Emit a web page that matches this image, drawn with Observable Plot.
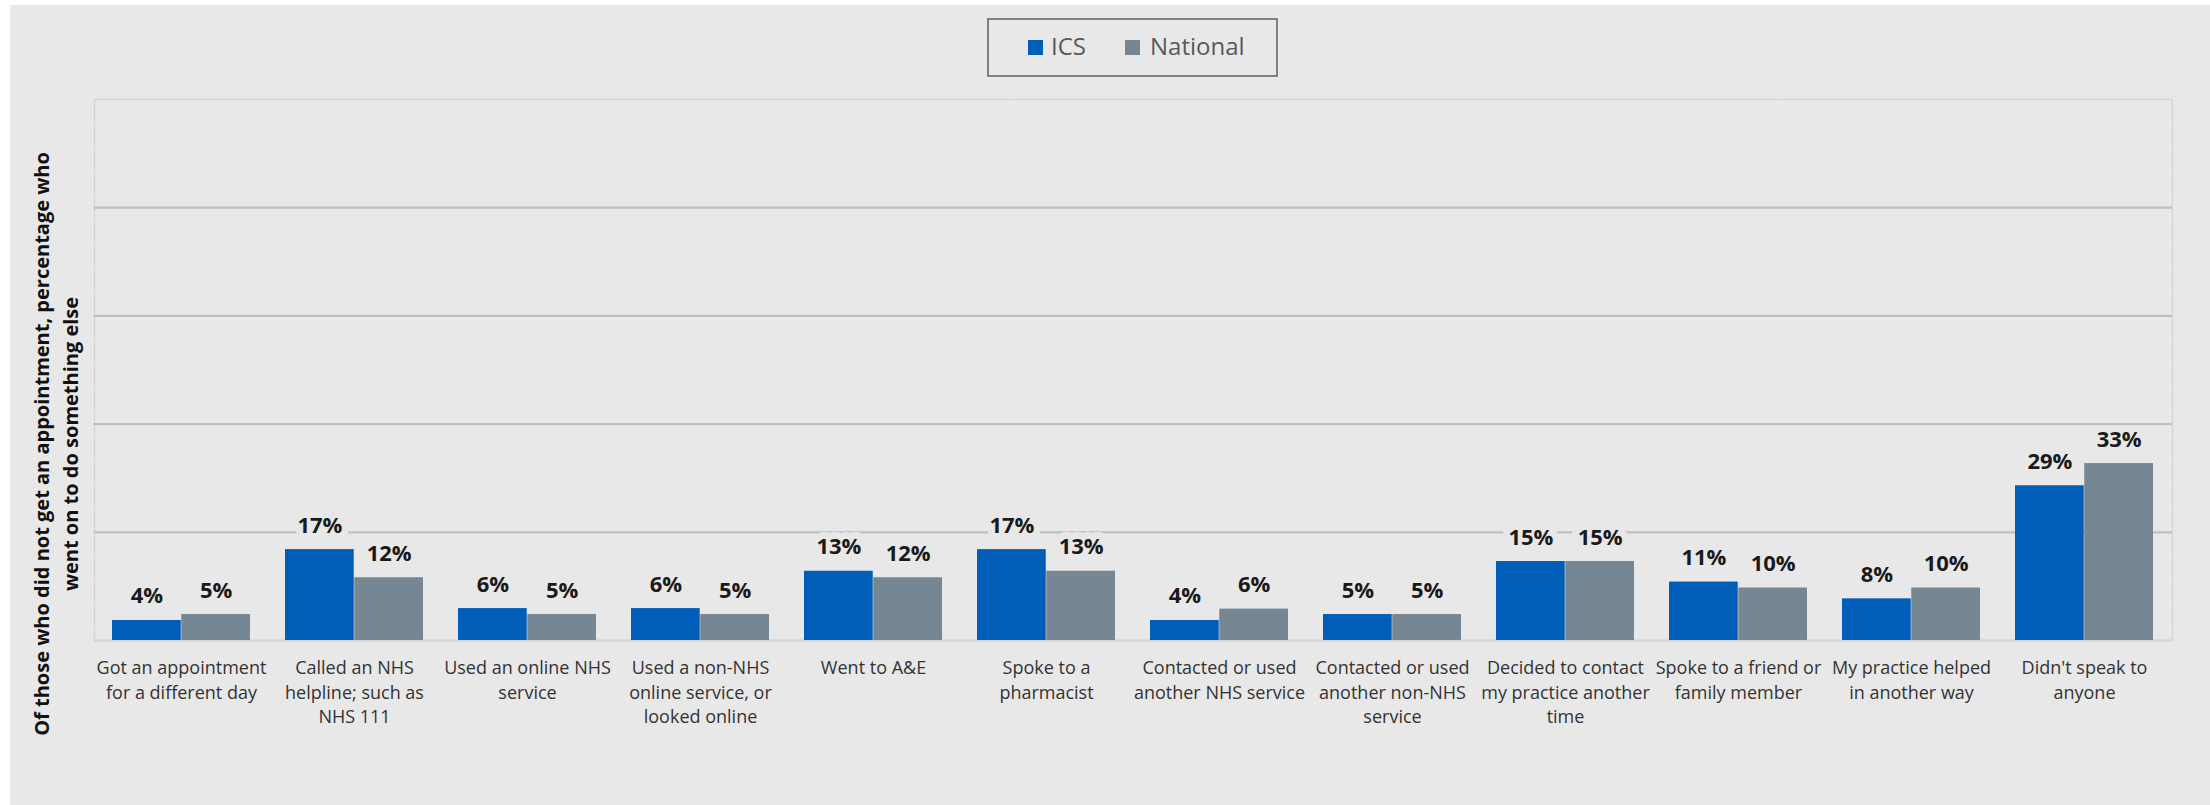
<!DOCTYPE html>
<html>
<head>
<meta charset="utf-8">
<script src="https://cdn.jsdelivr.net/npm/d3@7"></script>
<script src="https://cdn.jsdelivr.net/npm/@observablehq/plot@0.6"></script>
<style>
  html, body { margin: 0; padding: 0; background: #ffffff; }
  body { width: 2210px; height: 805px; position: relative; overflow: hidden; font-family: "Open Sans", sans-serif; }
  #bg { position: absolute; left: 10px; top: 5px; width: 2200px; height: 800px; background: #e8e8e8; }
  #legend { position: absolute; left: 987px; top: 18px; width: 291px; height: 59px; box-sizing: border-box; border: 2px solid #7f7f7f; }
  .sw { position: absolute; width: 15px; height: 15px; }
  .lt { position: absolute; font-size: 24px; line-height: 24px; color: #595959; white-space: nowrap; }
  #chart { position: absolute; left: 0; top: 85px; }
</style>
</head>
<body>
<div id="bg"></div>
<div id="legend"></div>
<div id="chart"></div>
<script>
// ---- data ----
const categories = [
  "Got an appointment\nfor a different day",
  "Called an NHS\nhelpline; such as\nNHS 111",
  "Used an online NHS\nservice",
  "Used a non-NHS\nonline service, or\nlooked online",
  "Went to A&E",
  "Spoke to a\npharmacist",
  "Contacted or used\nanother NHS service",
  "Contacted or used\nanother non-NHS\nservice",
  "Decided to contact\nmy practice another\ntime",
  "Spoke to a friend or\nfamily member",
  "My practice helped\nin another way",
  "Didn't speak to\nanyone"
];
const icsValues      = [3.7, 16.8, 5.9, 5.9, 12.8, 16.8, 3.7, 4.8, 14.6, 10.8, 7.7, 28.6];
const nationalValues = [4.8, 11.6, 4.8, 4.8, 11.6, 12.8, 5.8, 4.8, 14.6, 9.7, 9.7, 32.7];
const seriesNames = ["ICS", "National"];
const seriesColors = ["#005EB8", "#768692"];
const gridTicks = [20, 40, 60, 80];
const yTitle = "Of those who did not get an appointment, percentage who\nwent on to do something else";

// ---- rows ----
const icsRows = categories.map((c, i) => ({category: c, value: icsValues[i], series: seriesNames[0]}));
const natRows = categories.map((c, i) => ({category: c, value: nationalValues[i], series: seriesNames[1]}));

// ---- layout ----
const W = 2210, H = 720;
const mL = 94, mR = 38, mT = 14, mB = 165;
const pIn = 0.2, pOut = 0.1;
const step = (W - mL - mR) / (categories.length - pIn + 2 * pOut);
const half = step * (1 - pIn) / 2;
const bg = "#e8e8e8";

const labelFmt = v => Math.round(v) + "%";

const chart = Plot.plot({
  width: W, height: H,
  marginTop: mT, marginBottom: mB, marginLeft: mL, marginRight: mR,
  style: {background: "transparent", fontFamily: "'Open Sans', sans-serif", overflow: "visible"},
  x: {domain: categories, paddingInner: pIn, paddingOuter: pOut, axis: null},
  y: {domain: [0, 100], axis: null},
  marks: [
    Plot.frame({stroke: "#cdcdcd", strokeDasharray: "2,1", strokeWidth: 1.5}),
    Plot.ruleY(gridTicks, {stroke: "#bfbfbf", strokeWidth: 2.2}),
    Plot.ruleY([0], {stroke: "#d4d4d4", strokeWidth: 2}),
    Plot.barY(icsRows, {x: "category", y: "value", fill: seriesColors[0], insetRight: half}),
    Plot.barY(natRows, {x: "category", y: "value", fill: seriesColors[1], insetLeft: half}),
    Plot.text(icsRows, {x: "category", y: "value", text: d => labelFmt(d.value), dx: -half / 2, dy: -17,
      lineAnchor: "bottom", fontSize: 22, fontWeight: "bold", fill: "#1a1a1a",
      stroke: bg, strokeWidth: 14, paintOrder: "stroke", strokeLinejoin: "round"}),
    Plot.text(natRows, {x: "category", y: "value", text: d => labelFmt(d.value), dx: half / 2, dy: -17,
      lineAnchor: "bottom", fontSize: 22, fontWeight: "bold", fill: "#1a1a1a",
      stroke: bg, strokeWidth: 14, paintOrder: "stroke", strokeLinejoin: "round"}),
    Plot.text(categories, {x: d => d, frameAnchor: "bottom", lineAnchor: "top", dy: 16.6,
      fontSize: 18, lineHeight: 1.36, fill: "#333333"}),
    Plot.text([yTitle], {frameAnchor: "left", rotate: -90, textAnchor: "middle", lineAnchor: "middle",
      dx: -40, dy: 74, fontSize: 20, fontWeight: "bold", lineHeight: 1.42, fill: "#111111"})
  ]
});
document.getElementById("chart").appendChild(chart);

// ---- legend ----
const legend = document.getElementById("legend");
const legendItems = [
  {name: seriesNames[0], color: seriesColors[0], sx: 39, tx: 62},
  {name: seriesNames[1], color: seriesColors[1], sx: 136, tx: 161}
];
legendItems.forEach(it => {
  const sw = document.createElement("div");
  sw.className = "sw"; sw.style.background = it.color;
  sw.style.left = it.sx + "px"; sw.style.top = "20px";
  legend.appendChild(sw);
  const t = document.createElement("div");
  t.className = "lt"; t.textContent = it.name;
  t.style.left = it.tx + "px"; t.style.top = "14px";
  legend.appendChild(t);
});
</script>
</body>
</html>
